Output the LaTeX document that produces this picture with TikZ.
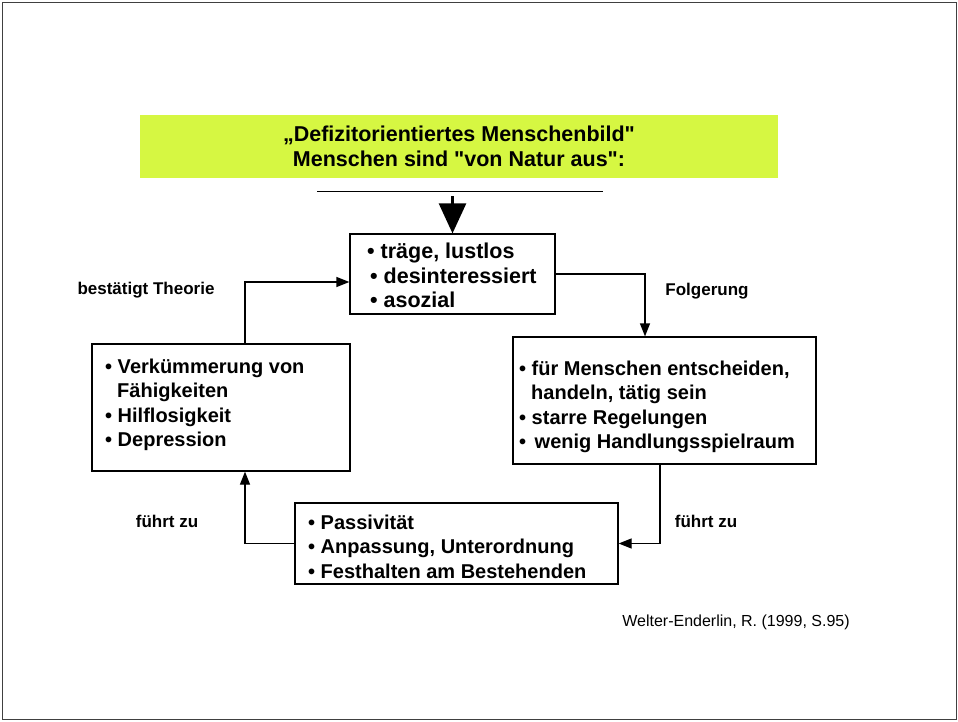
\documentclass[tikz,border=0pt]{standalone}
\usepackage{fontspec}
\setmainfont{Liberation Sans}
\newfontfamily\plainquotes{Liberation Sans}[Ligatures=TeXOff]
\usepackage{tikz}
\usetikzlibrary{arrows.meta}

\definecolor{bannergreen}{RGB}{214,247,66}

\begin{document}
\begin{tikzpicture}[x=1pt, y=-1pt,
        box/.style={draw, line width=1.2pt, rectangle, inner sep=0pt},
        boxtext/.style={anchor=north west, align=left, inner sep=0pt,
            font=\fontsize{20}{24.5}\selectfont\bfseries},
        label/.style={font=\fontsize{17}{20}\selectfont\bfseries},
        flow/.style={line width=1.2pt, -{Triangle[length=13pt, width=10pt]}}]
    \useasboundingbox (0, 0) rectangle (958, 721);
    \draw[line width=1pt, black!75] (2, 2) rectangle (956, 719);
    % banner
    \node[fill=bannergreen, minimum width=638pt, minimum height=63pt, inner sep=0pt, align=center,
        font=\plainquotes\fontsize{21.5}{25}\selectfont\bfseries] (banner) at (459, 146.5)
        {„Defizitorientiertes Menschenbild"\\Menschen sind "von Natur aus":};
    \draw[line width=1pt] (317, 191) -- (603, 191);
    % boxes
    \node[box, minimum width=205pt, minimum height=80pt] (top) at (452.5, 274) {};
    \node[box, minimum width=258pt, minimum height=127pt] (left) at (221, 407.5) {};
    \node[box, minimum width=303pt, minimum height=127pt] (right) at (664.5, 400.5) {};
    \node[box, minimum width=323pt, minimum height=81pt] (bottom) at (456.5, 543.5) {};
    \node[boxtext, font=\fontsize{21.5}{24.5}\selectfont\bfseries] (toptext) at (367, 243) {• träge, lustlos\\\hspace{3pt}• desinteressiert\\\hspace{3pt}• asozial};
    \node[boxtext] (lefttext) at (105, 358.5) {• Verkümmerung von\\\hspace{12pt}Fähigkeiten\\• Hilflosigkeit\\• Depression};
    \node[boxtext] (righttext) at (519, 360.5) {• für Menschen entscheiden,\\\hspace{12pt}handeln, tätig sein\\• starre Regelungen\\• \hspace{3pt}wenig Handlungsspielraum};
    \node[boxtext] (bottomtext) at (308, 514.5) {• Passivität\\• Anpassung, Unterordnung\\• Festhalten am Bestehenden};
    % arrows
    \coordinate (source) at (452.5, 196);
    \draw[line width=2.5pt, -{Triangle[length=30pt, width=27pt]}] (source) -- (top.north);
    \draw[flow] (top.east) -| ([xshift=-19.5pt]right.north);
    \draw[flow] ([xshift=-4.5pt]right.south) |- (bottom.east);
    \draw[flow] (bottom.west) -| ([xshift=24pt]left.south);
    \draw[flow] ([xshift=24pt]left.north) |- ([yshift=-8pt]top.west);
    % labels
    \node[label] (confirm) at (146, 290) {bestätigt Theorie};
    \node[label] (conclusion) at (707, 291) {Folgerung};
    \node[label] (leadsleft) at (167, 521) {führt zu};
    \node[label] (leadsright) at (706, 521) {führt zu};
    \node[font=\fontsize{16}{19}\selectfont] (citation) at (736, 622) {Welter-Enderlin, R. (1999, S.95)};
\end{tikzpicture}
\end{document}
